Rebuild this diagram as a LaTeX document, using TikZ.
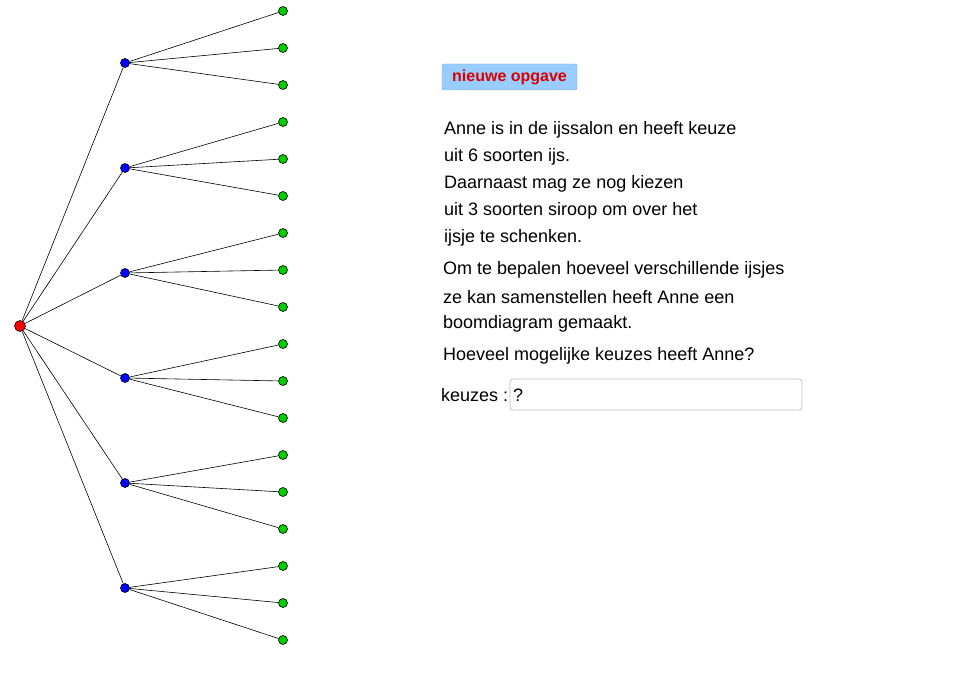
\documentclass[tikz,border=0pt]{standalone}
\usepackage{fontspec}
\setmainfont{Liberation Sans}
\definecolor{btnfill}{HTML}{99CCFF}
\definecolor{btnline}{HTML}{7AA6D6}
\begin{document}
\begin{tikzpicture}[x=1pt,y=-1pt,
  dot/.style={circle,draw=black,line width=0.6pt,inner sep=0pt,minimum size=9pt},
  edge/.style={draw=black,line width=0.6pt},
  txt/.style={anchor=west,inner sep=0pt,font=\fontsize{18}{21}\selectfont}]
\useasboundingbox (0,0) rectangle (975,677);
\node[dot,fill=red,minimum size=11pt] (r) at (20,326) {};
\foreach \i in {0,...,5}{
  \pgfmathsetmacro{\by}{63+105*\i}
  \node[dot,fill=blue] (b\i) at (125,\by) {};
  \foreach \j in {0,1,2}{
    \pgfmathsetmacro{\gy}{11+37*(3*\i+\j)}
    \node[dot,fill=green!80!black] (g\i\j) at (283,\gy) {};
    \draw[edge] (b\i) -- (g\i\j);
  }
  \draw[edge] (r) -- (b\i);
}
\node[draw=btnline,fill=btnfill,rounded corners=2pt,minimum width=135pt,minimum height=26pt,inner sep=0pt,font=\bfseries\fontsize{16}{18}\selectfont,text=red!85!black] (btn) at (509.5,77) {nieuwe opgave};
\node[txt] (l1) at (444,130) {Anne is in de ijssalon en heeft keuze};
\node[txt] (l2) at (444,157) {uit 6 soorten ijs.};
\node[txt] (l3) at (444,184) {Daarnaast mag ze nog kiezen};
\node[txt] (l4) at (444,211) {uit 3 soorten siroop om over het};
\node[txt] (l5) at (444,238) {ijsje te schenken.};
\node[txt] (m1) at (443,270) {Om te bepalen hoeveel verschillende ijsjes};
\node[txt] (m2) at (443,297) {ze kan samenstellen heeft Anne een};
\node[txt] (m3) at (443,324) {boomdiagram gemaakt.};
\node[txt] (m4) at (443,356) {Hoeveel mogelijke keuzes heeft Anne?};
\node[txt] (k) at (441,395) {keuzes :};
\node[draw=gray!50,line width=0.8pt,rounded corners=3pt,minimum width=292pt,minimum height=31pt,inner sep=0pt] (box) at (656,394.5) {};
\node[txt] (q) at (513,395) {?};
\end{tikzpicture}
\end{document}
